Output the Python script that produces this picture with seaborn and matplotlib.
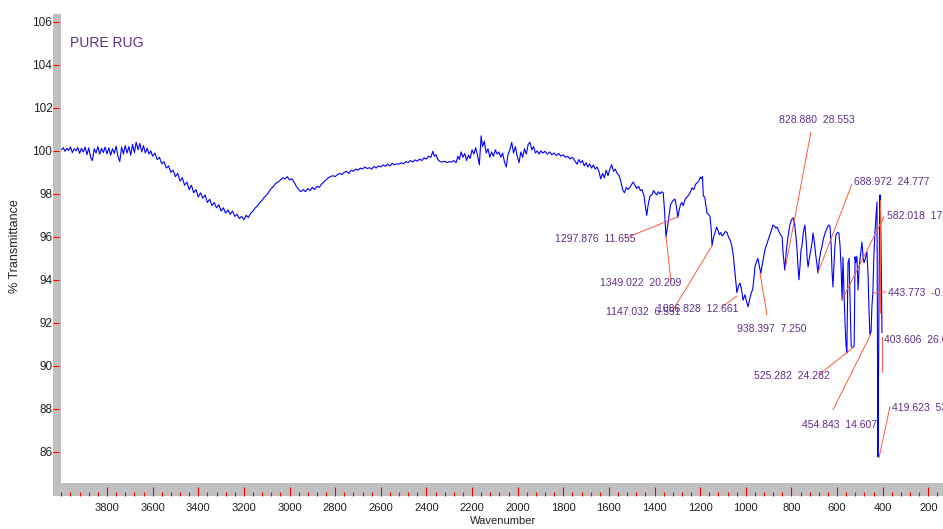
import matplotlib
matplotlib.use('Agg')
import matplotlib.pyplot as plt
from matplotlib.patches import Rectangle
from matplotlib.ticker import MultipleLocator
import pandas as pd
import seaborn as sns

# FTIR spectrum of pure RUG
wavenumber = [
    4000, 3992, 3984, 3976, 3968, 3960, 3952, 3944, 3936, 3928,
    3920, 3912, 3904, 3896, 3888, 3880, 3872, 3864, 3856, 3848,
    3840, 3832, 3824, 3816, 3808, 3800, 3792, 3784, 3776, 3768,
    3760, 3752, 3744, 3736, 3728, 3720, 3712, 3704, 3696, 3688,
    3680, 3672, 3664, 3656, 3648, 3640, 3632, 3624, 3616, 3608,
    3600, 3590, 3580, 3570, 3560, 3550, 3540, 3530, 3520, 3510,
    3500, 3490, 3480, 3470, 3460, 3450, 3440, 3430, 3420, 3410,
    3400, 3390, 3380, 3370, 3360, 3350, 3340, 3330, 3320, 3310,
    3300, 3290, 3280, 3270, 3260, 3250, 3240, 3230, 3220, 3210,
    3200, 3190, 3180, 3170, 3160, 3150, 3140, 3130, 3120, 3110,
    3100, 3090, 3080, 3070, 3060, 3050, 3040, 3030, 3020, 3010,
    3000, 2990, 2980, 2970, 2960, 2950, 2940, 2930, 2920, 2910,
    2900, 2890, 2880, 2870, 2860, 2850, 2840, 2830, 2820, 2810,
    2800, 2790, 2780, 2770, 2760, 2750, 2740, 2730, 2720, 2710,
    2700, 2690, 2680, 2670, 2660, 2650, 2640, 2630, 2620, 2610,
    2600, 2590, 2580, 2570, 2560, 2550, 2540, 2530, 2520, 2510,
    2500, 2490, 2480, 2470, 2460, 2450, 2440, 2430, 2420, 2410,
    2400, 2390, 2380, 2372, 2365, 2358, 2350, 2340, 2330, 2320,
    2310, 2300, 2290, 2280, 2270, 2262, 2255, 2248, 2240, 2232,
    2224, 2216, 2208, 2200, 2192, 2184, 2176, 2168, 2160, 2154,
    2146, 2138, 2130, 2122, 2114, 2106, 2098, 2090, 2082, 2074,
    2066, 2058, 2050, 2042, 2034, 2026, 2018, 2010, 2002, 1994,
    1986, 1978, 1970, 1962, 1954, 1946, 1938, 1930, 1922, 1914,
    1906, 1898, 1890, 1880, 1870, 1860, 1850, 1840, 1830, 1820,
    1810, 1800, 1790, 1780, 1770, 1760, 1750, 1740, 1732, 1724,
    1716, 1708, 1700, 1692, 1684, 1676, 1668, 1660, 1652, 1644,
    1636, 1628, 1620, 1612, 1604, 1596, 1588, 1580, 1572, 1564,
    1556, 1548, 1540, 1532, 1524, 1516, 1508, 1500, 1494, 1486,
    1478, 1470, 1462, 1455, 1446, 1440, 1434, 1428, 1420, 1412,
    1404, 1398, 1390, 1382, 1376, 1368, 1362, 1356, 1350, 1344,
    1338, 1330, 1324, 1318, 1310, 1304, 1298, 1292, 1286, 1280,
    1274, 1266, 1258, 1250, 1242, 1236, 1228, 1220, 1214, 1206,
    1200, 1194, 1190, 1186, 1180, 1174, 1170, 1164, 1157, 1152,
    1148, 1142, 1135, 1128, 1122, 1116, 1110, 1104, 1098, 1090,
    1082, 1076, 1069, 1062, 1056, 1050, 1044, 1039, 1032, 1025,
    1018, 1012, 1004, 997, 990, 983, 976, 970, 964, 960,
    953, 947, 940, 934, 928, 922, 916, 910, 903, 896,
    888, 881, 874, 868, 862, 855, 848, 841, 836, 829,
    822, 815, 808, 800, 793, 786, 781, 776, 771, 767,
    762, 758, 754, 748, 741, 735, 731, 727, 720, 715,
    710, 705, 700, 694, 689, 684, 678, 672, 666, 660,
    652, 644, 637, 631, 626, 622, 618, 614, 609, 605,
    598, 592, 587, 582, 578, 574, 569, 565, 561, 557,
    552, 547, 543, 538, 533, 528, 525, 521, 518, 513,
    508, 503, 497, 491, 486, 482, 476, 469, 464, 460,
    456, 451, 447, 443, 439, 434, 429, 425, 423, 421,
    418, 414, 412, 409, 406, 403,
]
transmittance = [
    100.05, 100.15, 99.98, 100.12, 100.02, 100.18, 99.92, 100.10, 100.00, 100.16,
    99.88, 100.12, 99.95, 100.18, 99.82, 100.14, 99.70, 99.55, 100.10, 99.90,
    100.20, 99.85, 100.12, 99.92, 100.18, 99.86, 100.14, 99.80, 100.10, 99.88,
    100.22, 99.75, 99.50, 100.18, 99.85, 100.25, 99.90, 100.20, 99.80, 100.30,
    99.92, 100.40, 100.05, 100.35, 99.95, 100.25, 99.90, 100.12, 99.85, 100.00,
    99.75, 99.90, 99.60, 99.70, 99.40, 99.50, 99.20, 99.30, 99.00, 99.10,
    98.80, 98.95, 98.60, 98.75, 98.40, 98.55, 98.20, 98.40, 98.05, 98.20,
    97.85, 98.05, 97.80, 97.95, 97.60, 97.75, 97.45, 97.60, 97.35, 97.50,
    97.20, 97.35, 97.10, 97.25, 97.05, 97.20, 96.95, 97.05, 96.85, 96.95,
    96.80, 97.00, 96.90, 97.10, 97.20, 97.35, 97.45, 97.60, 97.70, 97.85,
    97.95, 98.10, 98.25, 98.35, 98.50, 98.55, 98.65, 98.75, 98.70, 98.80,
    98.65, 98.70, 98.55, 98.35, 98.20, 98.10, 98.20, 98.10, 98.25, 98.15,
    98.30, 98.20, 98.35, 98.30, 98.45, 98.55, 98.65, 98.75, 98.80, 98.85,
    98.80, 98.90, 98.95, 98.90, 99.00, 99.05, 98.95, 99.10, 99.05, 99.15,
    99.10, 99.20, 99.15, 99.25, 99.18, 99.22, 99.15, 99.28, 99.20, 99.30,
    99.25, 99.35, 99.28, 99.38, 99.30, 99.42, 99.35, 99.40, 99.38, 99.45,
    99.40, 99.50, 99.45, 99.55, 99.48, 99.58, 99.52, 99.62, 99.55, 99.68,
    99.62, 99.75, 99.70, 99.98, 99.75, 99.82, 99.60, 99.50, 99.48, 99.52,
    99.45, 99.50, 99.48, 99.55, 99.45, 99.75, 99.60, 99.95, 99.70, 99.88,
    99.55, 99.80, 99.65, 100.05, 99.85, 100.15, 99.80, 99.35, 100.70, 100.20,
    100.45, 99.90, 100.10, 99.70, 99.95, 99.75, 100.05, 99.85, 99.95, 99.70,
    99.90, 99.50, 99.25, 99.85, 100.05, 100.40, 99.90, 100.20, 99.75, 99.45,
    99.95, 99.70, 100.10, 99.85, 100.30, 100.40, 100.05, 100.20, 99.90, 100.00,
    99.85, 100.00, 99.90, 99.98, 99.85, 99.95, 99.82, 99.90, 99.78, 99.88,
    99.75, 99.82, 99.70, 99.75, 99.62, 99.70, 99.55, 99.38, 99.60, 99.45,
    99.55, 99.30, 99.45, 99.25, 99.40, 99.20, 99.35, 99.15, 99.25, 99.05,
    98.70, 98.95, 98.75, 99.10, 98.85, 99.15, 99.35, 99.05, 99.15, 98.95,
    98.85, 98.60, 98.20, 98.05, 98.30, 98.20, 98.30, 98.45, 98.55, 98.40,
    98.25, 98.35, 98.15, 98.20, 97.90, 97.40, 97.00, 97.50, 97.90, 97.95,
    98.15, 98.05, 97.95, 98.10, 98.00, 98.10, 98.05, 97.20, 96.00, 96.40,
    96.85, 97.50, 97.60, 97.70, 97.75, 97.40, 96.90, 97.25, 97.50, 97.60,
    97.45, 97.75, 97.85, 97.95, 98.10, 98.28, 98.20, 98.45, 98.50, 98.60,
    98.78, 98.70, 98.80, 97.90, 97.85, 97.40, 97.10, 97.05, 96.95, 96.40,
    95.60, 95.95, 96.20, 96.45, 96.30, 96.10, 96.20, 96.05, 96.10, 96.25,
    96.20, 96.00, 95.85, 95.60, 95.25, 94.60, 93.90, 93.40, 93.70, 93.85,
    93.50, 93.05, 93.30, 93.00, 92.75, 93.10, 93.40, 93.55, 94.10, 94.60,
    94.85, 95.00, 94.60, 94.30, 94.70, 95.05, 95.40, 95.60, 95.85, 96.05,
    96.30, 96.55, 96.50, 96.40, 96.45, 96.25, 96.10, 96.00, 95.20, 94.45,
    95.40, 96.00, 96.50, 96.80, 96.88, 96.60, 96.10, 95.50, 94.60, 94.00,
    94.70, 95.40, 95.55, 96.20, 96.55, 95.80, 95.00, 94.60, 95.10, 95.40,
    95.70, 96.18, 95.80, 95.20, 94.80, 94.32, 94.90, 95.30, 95.55, 95.90,
    96.20, 96.40, 96.55, 96.50, 95.60, 94.40, 93.67, 94.60, 95.60, 96.09,
    96.20, 96.18, 95.60, 94.50, 93.06, 95.05, 93.20, 92.00, 91.00, 90.60,
    94.80, 95.00, 93.00, 90.90, 90.85, 90.88, 90.90, 95.07, 94.80, 95.10,
    93.53, 94.60, 95.20, 95.76, 95.10, 94.79, 95.00, 95.30, 94.20, 92.60,
    91.44, 91.60, 92.80, 93.39, 95.00, 96.18, 97.00, 97.62, 91.00, 85.76,
    90.00, 96.50, 97.95, 97.00, 94.50, 91.53,
]

# peak labels as printed by the instrument software
peak_labels = [
    "828.880  28.553", "688.972  24.777", "582.018  17.032", "443.773  -0.003",
    "403.606  26.653", "419.623  53.118", "454.843  14.607", "525.282  24.282",
    "938.397  7.250", "1147.032  6.551", "1086.828  12.661", "1349.022  20.209",
    "1297.876  11.655",
]
# where each label sits (wavenumber, %T)
label_x = [854.6, 525.9, 381.3, 376.9, 394.4, 359.3, 753.8, 964.2, 1038.7, 1612.9, 1389.4, 1639.2, 1836.4]
label_y = [101.44, 98.56, 96.97, 93.39, 91.20, 88.04, 87.25, 89.53, 91.71, 92.51, 92.65, 93.86, 95.90]
# leader lines: start / end points
lead_x0 = [714.4, 534.7, 394.4, 442.6, 403.2, 368.1, 617.9, 674.9, 907.2, 1323.6, 1104.5, 1328.0, 1525.2, 412.0]
lead_y0 = [100.88, 98.46, 96.93, 93.39, 91.34, 88.09, 87.95, 89.62, 92.37, 92.51, 92.74, 93.90, 95.95, 97.72]
lead_x1 = [828.3, 683.7, 578.5, 385.6, 403.2, 416.3, 451.4, 525.9, 937.9, 1148.3, 1038.7, 1349.9, 1297.3, 412.0]
lead_y1 = [94.46, 94.32, 93.06, 93.44, 89.71, 85.71, 91.48, 90.88, 94.32, 95.58, 93.25, 96.04, 96.93, 92.46]

BLUE = '#0000ff'
PURPLE = '#5c2e8a'
ORANGE = '#ff5a36'
GRAY = '#c0c0c0'

sns.set_style('white')
plt.rcParams['font.family'] = ['Liberation Sans Narrow', 'Liberation Sans', 'DejaVu Sans']

fig = plt.figure(figsize=(9.43, 5.29), dpi=100)
ax = fig.add_axes([53 / 943, 33 / 529, 890 / 943, 482 / 529])

df = pd.DataFrame({'Wavenumber': wavenumber, 'T': transmittance})
sns.lineplot(data=df, x='Wavenumber', y='T', sort=False, estimator=None,
             color=BLUE, linewidth=0.8, ax=ax, zorder=1.8)

ax.set_xlim(4036.7, 135.6)
ax.set_ylim(83.94, 106.37)

# gray frame bars like the spectrometer printout
ax.add_patch(Rectangle((0, 0), 1, 13 / 482, transform=ax.transAxes,
                       facecolor=GRAY, edgecolor='none', zorder=2, clip_on=False))
ax.add_patch(Rectangle((0, 0), 8 / 890, 1, transform=ax.transAxes,
                       facecolor=GRAY, edgecolor='none', zorder=2, clip_on=False))
ax.set_axisbelow(False)
for s in ax.spines.values():
    s.set_visible(False)

ax.xaxis.set_major_locator(MultipleLocator(200))
ax.xaxis.set_minor_locator(MultipleLocator(40))
ax.yaxis.set_major_locator(MultipleLocator(2))
ax.set_xticks([t for t in range(200, 4000, 200)])
ax.set_yticks(list(range(86, 107, 2)))
ax.tick_params(axis='x', which='major', direction='in', length=6.7, width=0.8,
               color='red', labelsize=8, pad=5, labelcolor='#222222', bottom=True)
ax.tick_params(axis='x', which='minor', direction='in', length=3.1, width=0.8,
               color='red', bottom=True)
ax.tick_params(axis='y', which='major', direction='in', length=4, width=0.8,
               color='red', labelsize=8.5, pad=0.5, labelcolor='#222222', left=True)

ax.set_xlabel('Wavenumber', fontsize=8, color='#222222')
ax.xaxis.set_label_coords(503 / 890 - 53 / 890 + 0.0, -0.042)
ax.set_ylabel('')
fig.text(15 / 943, 1 - 246 / 529, '% Transmittance', rotation=90, ha='center', va='center',
         fontsize=9, color='#222222', family=['Liberation Sans', 'DejaVu Sans'])

ax.text(0.019, 0.94, 'PURE RUG', transform=ax.transAxes, ha='left', va='center',
        fontsize=10, color=PURPLE)

for x0, y0, x1, y1 in zip(lead_x0, lead_y0, lead_x1, lead_y1):
    ax.plot([x0, x1], [y0, y1], color=ORANGE, linewidth=0.7, zorder=1.9)

for lab, lx, ly in zip(peak_labels, label_x, label_y):
    ax.text(lx, ly, lab, ha='left', va='center', fontsize=7.5, color=PURPLE,
            clip_on=False, zorder=3)

fig.savefig('out.png', dpi=100)
